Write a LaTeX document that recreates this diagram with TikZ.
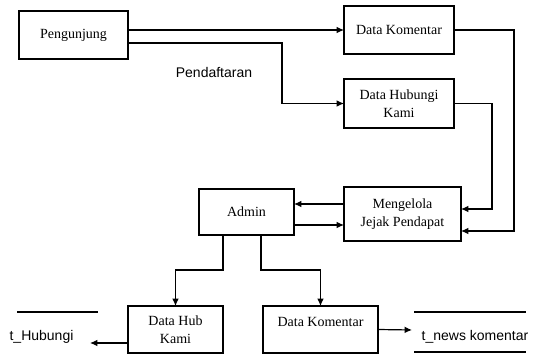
\documentclass[tikz,border=0pt]{standalone}
\usepackage{fontspec}
\setmainfont{Liberation Serif}
\setsansfont{Liberation Sans}
\usetikzlibrary{arrows.meta,calc}

\tikzset{
  box/.style={draw, line width=0.9pt, inner sep=0pt, outer sep=0pt, align=center,
    font=\fontsize{10.5}{13.5}\selectfont},
  store/.style={inner sep=0pt, font=\sffamily\fontsize{10.5}{13}\selectfont},
  flow/.style={-{Latex[length=5.5pt,width=5pt]}, line width=0.9pt}
}

\begin{document}
\begin{tikzpicture}[x=0.75pt,y=-0.75pt]
  \useasboundingbox (0,0) rectangle (535,356);

  \node(peng) at (73.5,35) [box, minimum width=81.75pt, minimum height=36pt] {Pengunjung};
  \node(dk) at (399,30) [box, minimum width=82.5pt, minimum height=36pt] {Data Komentar};
  \node(dhk) at (399,103.5) [box, minimum width=82.5pt, minimum height=36.75pt] {Data Hubungi\\Kami};
  \node(mjp) at (402.5,214) [box, minimum width=87.75pt, minimum height=40.5pt] {Mengelola\\Jejak Pendapat};
  \node(admin) at (246.5,212) [box, minimum width=71.25pt, minimum height=34.5pt] {Admin};
  \node(dhkb) at (175.5,329.5) [box, minimum width=71.25pt, minimum height=35.25pt] {Data Hub\\Kami};
  \node(dkb) at (320.5,329.5) [box, minimum width=86.25pt, minimum height=35.25pt, text depth=12pt] {Data Komentar};

  \node(daftar) at (214,72) [store] {Pendaftaran};
  \node(thub) at (41.5,337) [store] {t\_Hubungi};
  \node(tnews) at (475,337) [store] {t\_news komentar};
  \coordinate (thubin) at (90,343);
  \coordinate (tnewsin) at (412,330);

  % data stores
  \draw[line width=0.9pt] (17,312) -- (98,312);
  \draw[line width=0.9pt] (414,312) -- (526,312);
  \draw[line width=0.9pt] (414,352) -- (526,352);

  % pengunjung
  \draw[flow] (peng.east |- dk.west) -- (dk.west);
  \draw[flow] ($(peng.east)+(0,8)$) -| ($(dhk.west)+(-62,0)$) -- (dhk.west);

  % ke mengelola
  \draw[flow] (dk.east) -| ($(mjp.east)+(53,17)$) -- ($(mjp.east)+(0,17)$);
  \draw[flow] (dhk.east) -| ($(mjp.east)+(31,-5)$) -- ($(mjp.east)+(0,-5)$);

  \draw[flow] ($(mjp.west)+(0,-10)$) -- (admin.east |- {$(mjp.west)+(0,-10)$});
  \draw[flow] ($(admin.east)+(0,13)$) -- (mjp.west |- {$(admin.east)+(0,13)$});

  % admin
  \draw[flow] ($(admin.south)+(-23.5,0)$) -- ++(0,35) -| (dhkb.north);
  \draw[flow] ($(admin.south)+(14.5,0)$) -- ++(0,35) -| (dkb.north);

  \draw[flow] (dhkb.west |- thubin) -- (thubin);
  \draw[flow] (dkb.east) -- (tnewsin);
\end{tikzpicture}
\end{document}
